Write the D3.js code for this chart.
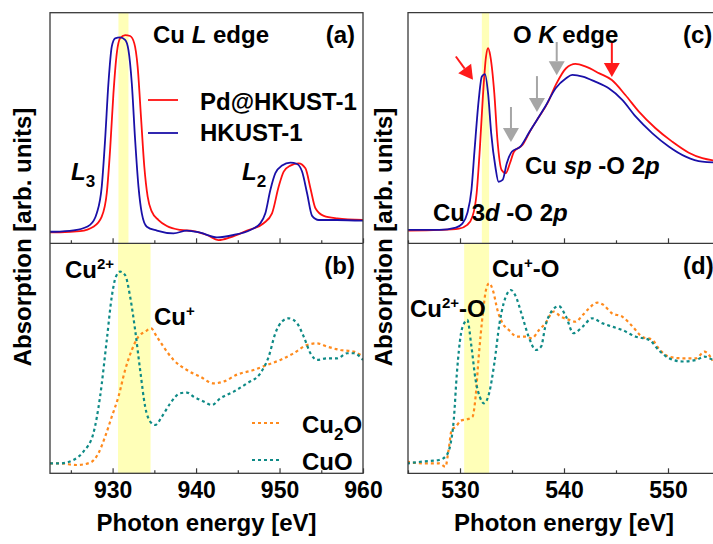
<!DOCTYPE html>
<html><head><meta charset="utf-8">
<script src="https://cdn.jsdelivr.net/npm/d3@7"></script>
<style>
html,body{margin:0;padding:0;background:#fff;}
svg{display:block;font-family:"Liberation Sans",Arial,Helvetica,sans-serif;}
</style></head>
<body>
<svg id="chart" width="713" height="544"></svg>
<script>
// ---------- DATA ----------
// Cu L edge (panel a): [photon energy eV, absorption arb. units]
const cuL_HKUST = [[922.5,5.0],[923.7,5.1],[925.7,5.8],[927.3,8.0],[928.1,13.0],[928.7,24.6],[929.1,44.8],[929.5,69.4],[929.9,85.3],[930.3,88.9],[930.9,89.3],[931.5,88.2],[931.9,83.8],[932.3,69.4],[932.7,44.8],[933.1,24.6],[933.5,13.0],[934.1,7.2],[935.3,5.5],[937.3,4.3],[938.9,5.5],[940.5,4.6],[942.5,2.6],[944.5,3.6],[946.5,5.8],[947.7,8.7],[948.3,13.0],[948.9,23.1],[949.5,30.4],[950.3,33.7],[951.3,35.0],[952.1,34.4],[952.7,31.1],[953.3,21.7],[953.9,11.9],[954.7,10.1],[956.9,10.1],[960,9.8]];
const cuL_PdHKUST = [[922.5,4.8],[923.7,4.8],[926.1,5.3],[927.7,7.2],[928.7,11.6],[929.3,21.7],[929.7,40.5],[930.1,65.0],[930.5,82.4],[930.9,88.9],[931.5,90.3],[932.1,89.9],[932.6,86.7],[933.0,76.6],[933.4,54.9],[933.8,33.2],[934.2,20.2],[934.7,13.7],[935.5,10.1],[936.5,7.5],[938.1,5.8],[939.7,5.3],[941.3,3.6],[942.7,1.4],[944.1,2.6],[946.1,5.5],[948.1,8.7],[949.1,13.0],[949.9,24.6],[950.5,31.1],[951.3,33.7],[952.3,34.7],[953.1,32.5],[953.7,23.9],[954.3,15.2],[955.3,11.9],[956.9,10.8],[960,10.1]];
// Cu L edge references (panel b)
const cuL_Cu2O = [[922.5,4.3],[923.7,4.3],[925.7,3.6],[927.3,4.6],[928.3,8.7],[929.1,15.9],[929.9,24.6],[930.7,33.3],[931.5,44.9],[932.3,53.6],[933.1,59.4],[933.9,61.6],[934.6,63.0],[935.3,59.4],[936.1,55.0],[937.3,49.3],[938.9,44.9],[940.5,42.0],[942.1,39.1],[943.3,39.9],[944.9,42.9],[946.9,44.9],[948.5,47.1],[950.1,49.3],[951.7,52.2],[953.3,55.8],[954.5,56.5],[955.7,55.1],[957.3,53.6],[958.9,52.9],[960,50.7]];
const cuL_CuO = [[922.5,4.3],[923.7,4.3],[925.3,5.8],[926.5,9.4],[927.7,17.4],[928.5,33.3],[929.3,57.9],[929.9,76.8],[930.4,85.5],[930.9,87.7],[931.5,86.2],[932.1,76.8],[932.7,62.3],[933.3,44.9],[933.9,29.0],[934.5,22.5],[935.1,21.0],[935.9,24.6],[936.9,30.4],[938.1,34.8],[938.9,35.1],[939.7,33.3],[940.9,31.2],[941.9,29.7],[942.9,32.6],[944.5,35.5],[946.1,39.1],[947.7,43.5],[948.7,50.7],[949.5,60.9],[950.3,66.0],[951.1,67.4],[952.1,65.2],[952.9,59.4],[953.7,52.2],[954.5,49.3],[955.7,50.0],[956.9,50.0],[958.1,52.2],[958.9,52.2],[960,49.3]];
// O K edge (panel c)
const oK_HKUST = [[524.9,5.8],[528.0,5.8],[529.6,6.8],[530.2,8.4],[530.7,13.0],[531.1,23.1],[531.4,40.5],[531.8,62.2],[532.1,72.3],[532.4,73.4],[532.7,65.0],[533.0,47.7],[533.4,33.2],[533.7,26.7],[534.1,27.5],[534.5,34.7],[535.0,39.8],[535.8,41.9],[536.6,47.7],[537.4,53.5],[538.2,59.3],[539.2,67.2],[540.2,71.6],[540.8,73.0],[541.8,72.3],[543.0,70.1],[544.3,67.2],[545.6,62.2],[546.9,54.9],[548.5,47.7],[550.1,41.9],[551.7,37.6],[553.3,35.4],[555,35.0]];
const oK_PdHKUST = [[524.9,5.5],[528.0,5.8],[529.9,6.4],[530.7,8.0],[531.2,11.6],[531.6,21.7],[531.9,40.5],[532.2,63.6],[532.5,80.9],[532.7,84.6],[532.9,81.6],[533.3,65.0],[533.6,44.8],[534.0,31.8],[534.4,30.4],[534.8,34.7],[535.2,39.8],[536.0,42.6],[536.8,49.1],[537.6,54.9],[538.4,60.7],[539.2,68.6],[540.2,75.9],[541.1,77.8],[542.1,76.6],[543.4,73.7],[544.6,70.8],[545.9,64.3],[547.2,57.1],[548.8,49.9],[550.4,44.1],[552.0,39.3],[553.3,36.9],[555,35.6]];
// O K edge references (panel d)
const oK_Cu2O = [[524.9,5.1],[526.4,4.3],[528.0,4.3],[528.6,2.9],[528.9,10.1],[529.2,18.8],[529.6,20.3],[530.1,22.9],[530.7,23.5],[531.2,24.6],[531.5,33.3],[531.8,50.7],[532.2,69.6],[532.5,79.7],[532.8,82.6],[533.2,79.0],[533.6,71.0],[534.1,65.2],[534.7,62.3],[535.5,59.4],[536.3,59.4],[536.9,58.7],[537.6,62.3],[538.2,65.2],[539.0,70.3],[539.7,68.1],[540.5,66.7],[541.1,65.9],[541.8,68.8],[542.4,71.7],[543.2,74.2],[543.8,73.2],[544.6,69.6],[545.6,68.1],[546.6,63.8],[547.5,59.4],[548.5,58.0],[549.1,54.3],[550.1,50.7],[551.4,50.0],[552.7,50.0],[553.5,52.9],[554.3,49.0]];
const oK_CuO = [[524.9,4.3],[526.4,5.1],[528.0,5.8],[528.6,7.2],[529.1,13.0],[529.4,23.2],[529.7,43.5],[530.1,60.9],[530.4,65.2],[530.7,66.7],[531.1,55.1],[531.5,40.6],[531.9,33.3],[532.3,30.4],[532.8,34.8],[533.3,47.8],[533.8,65.2],[534.2,73.9],[534.9,79.7],[535.3,77.5],[536.0,68.1],[536.6,59.4],[537.3,53.6],[537.8,55.1],[538.2,63.8],[538.9,71.0],[539.5,72.7],[540.2,68.1],[540.9,60.9],[541.8,63.8],[542.7,67.4],[543.7,65.2],[544.6,63.8],[545.6,62.3],[546.9,59.4],[548.2,58.0],[549.1,53.6],[550.1,50.0],[551.4,48.6],[552.7,49.3],[553.5,50.7],[554.3,49.3]];
// Highlight bands [eV start, eV end]
const bandA = [930.7, 931.9];
const bandB = [930.65, 934.55];
const bandC = [532.1, 532.8];
const bandD = [530.4, 532.8];
// Tick values
const ticksCuMajor = [930, 940, 950, 960];
const ticksCuMinor = [925, 935, 945, 955];
const ticksOMajor = [530, 540, 550];
const ticksOMinor = [525, 535, 545, 555];

// ---------- LAYOUT ----------
const svg = d3.select("#chart");
const FONT = 24;
const xL = d3.scaleLinear().domain([922.5, 960]).range([50, 363]);
const xR = d3.scaleLinear().domain([525, 555]).range([408, 720]);
const yT = d3.scaleLinear().domain([0, 100]).range([243.3, 12.7]);
const yB = d3.scaleLinear().domain([0, 100]).range([473.3, 243.3]);

const COL = {red:"#ff1010", blue:"#1a10a8", orange:"#ff8a1c", teal:"#0e8a86", band:"#ffffb8", frame:"#3a3a3a", gray:"#a6a6a6", redArrow:"#ff1a1a"};

const defs = svg.append("defs");
defs.append("clipPath").attr("id","clipL").append("rect").attr("x",50).attr("y",12.7).attr("width",313).attr("height",460.6);
defs.append("clipPath").attr("id","clipR").append("rect").attr("x",408).attr("y",12.7).attr("width",312).attr("height",460.6);

// bands
function band(g, x, y, b){
  g.append("rect").attr("x", x(b[0])).attr("width", x(b[1]) - x(b[0]))
   .attr("y", y.range()[1]).attr("height", y.range()[0] - y.range()[1])
   .attr("fill", COL.band);
}
const gL = svg.append("g").attr("clip-path","url(#clipL)");
const gR = svg.append("g").attr("clip-path","url(#clipR)");
band(gL, xL, yT, bandA);
band(gL, xL, yB, bandB);
band(gR, xR, yT, bandC);
band(gR, xR, yB, bandD);

// curves
function curve(g, x, y, data, color, dashed){
  const line = d3.line().x(d => x(d[0])).y(d => y(d[1])).curve(d3.curveMonotoneX);
  g.append("path").datum(data).attr("d", line).attr("fill","none")
   .attr("stroke", color).attr("stroke-width", dashed ? 2.2 : 1.8)
   .attr("stroke-dasharray", dashed ? "3,3" : null)
   .attr("stroke-linejoin","round");
}
curve(gL, xL, yT, cuL_PdHKUST, COL.red, false);
curve(gL, xL, yT, cuL_HKUST, COL.blue, false);
curve(gL, xL, yB, cuL_Cu2O, COL.orange, true);
curve(gL, xL, yB, cuL_CuO, COL.teal, true);
curve(gR, xR, yT, oK_PdHKUST, COL.red, false);
curve(gR, xR, yT, oK_HKUST, COL.blue, false);
curve(gR, xR, yB, oK_Cu2O, COL.orange, true);
curve(gR, xR, yB, oK_CuO, COL.teal, true);

// frames
const fr = svg.append("g").attr("fill","none").attr("stroke",COL.frame).attr("stroke-width",1.3);
fr.append("rect").attr("x",50).attr("y",12.7).attr("width",313).attr("height",460.6);
fr.append("line").attr("x1",50).attr("x2",363).attr("y1",243.3).attr("y2",243.3);
fr.append("path").attr("d",`M720,12.7H408V473.3H720M408,243.3H720`);

// axes (ticks inside)
function axes(x, major, minor){
  [yT, yB].forEach((y, i) => {
    const base = y.range()[0];
    const gMaj = svg.append("g").attr("transform",`translate(0,${base})`)
      .call(d3.axisBottom(x).tickValues(major).tickSize(-5).tickPadding(8)
        .tickFormat(i === 1 ? d3.format("d") : () => ""));
    const gMin = svg.append("g").attr("transform",`translate(0,${base})`)
      .call(d3.axisBottom(x).tickValues(minor).tickSize(-3).tickFormat(() => ""));
    [gMaj, gMin].forEach(g => {
      g.select(".domain").remove();
      g.selectAll(".tick line").attr("stroke",COL.frame).attr("stroke-width",1.2);
    });
    gMaj.selectAll(".tick text").attr("font-size",23).attr("font-weight","bold")
      .attr("fill","#000").attr("font-family","'Liberation Sans',Arial,sans-serif");
  });
}
axes(xL, ticksCuMajor, ticksCuMinor);
axes(xR, ticksOMajor, ticksOMinor);

// text helpers
function txt(x, y, s, opts = {}){
  const t = svg.append("text").attr("x", x).attr("y", y)
    .attr("font-size", opts.size || FONT).attr("font-weight","bold").attr("fill","#000").text(s);
  if (opts.anchor) t.attr("text-anchor", opts.anchor);
  return t;
}
txt(206.5, 531, "Photon energy [eV]", {anchor:"middle"});
txt(564, 531, "Photon energy [eV]", {anchor:"middle"});
svg.append("text").attr("transform","translate(31,237) rotate(-90)").attr("text-anchor","middle")
  .attr("font-size",FONT).attr("font-weight","bold").text("Absorption [arb. units]");
svg.append("text").attr("transform","translate(392,237) rotate(-90)").attr("text-anchor","middle")
  .attr("font-size",FONT).attr("font-weight","bold").text("Absorption [arb. units]");

// rich text helper
function rich(x, y, parts, anchor){
  const t = svg.append("text").attr("x", x).attr("y", y).attr("font-size", FONT)
    .attr("font-weight","bold").attr("fill","#000");
  if (anchor) t.attr("text-anchor", anchor);
  parts.forEach(p => {
    const s = t.append("tspan").text(p[0]);
    if (p[1] === "i") s.attr("font-style","italic");
    if (p[1] === "sup") s.attr("font-size", 15).attr("dy", -9);
    if (p[1] === "sub") s.attr("font-size", 17).attr("dy", 7);
    if (p[1] === "back") s.attr("dy", 9);
    if (p[1] === "backSub") s.attr("dy", -7);
  });
  return t;
}

// panel (a)
rich(153, 43, [["Cu "],["L","i"],[" edge"]]);
txt(355, 43, "(a)", {anchor:"end"});
rich(71, 180, [["L","i"],["3","sub"]]);
rich(242, 180, [["L","i"],["2","sub"]]);
svg.append("line").attr("x1",148).attr("x2",178).attr("y1",100).attr("y2",100).attr("stroke",COL.red).attr("stroke-width",1.8);
svg.append("line").attr("x1",148).attr("x2",178).attr("y1",133).attr("y2",133).attr("stroke",COL.blue).attr("stroke-width",1.8);
txt(200, 110, "Pd@HKUST-1");
txt(200, 141, "HKUST-1");

// panel (b)
rich(65, 278, [["Cu"],["2+","sup"]]);
rich(154, 325, [["Cu"],["+","sup"]]);
txt(355, 274, "(b)", {anchor:"end"});
svg.append("line").attr("x1",252).attr("x2",282).attr("y1",423).attr("y2",423).attr("stroke",COL.orange).attr("stroke-width",2.2).attr("stroke-dasharray","3,3");
svg.append("line").attr("x1",252).attr("x2",282).attr("y1",460).attr("y2",460).attr("stroke",COL.teal).attr("stroke-width",2.2).attr("stroke-dasharray","3,3");
rich(302, 433, [["Cu"],["2","sub"],["O","backSub"]]);
txt(302, 470, "CuO");

// panel (c)
rich(513, 43, [["O "],["K","i"],[" edge"]]);
txt(683, 43, "(c)");
rich(525, 174, [["Cu "],["sp","i"],[" -O 2"],["p","i"]]);
rich(433, 221, [["Cu 3"],["d","i"],[" -O 2"],["p","i"]]);

// arrows in (c), positioned in data coordinates
function arrow(x0, y0, x1, y1, color){
  const X0 = xR(x0), Y0 = yT(y0), X1 = xR(x1), Y1 = yT(y1);
  const ang = Math.atan2(Y1 - Y0, X1 - X0);
  const hl = 14, hw = 8;
  const bx = X1 - hl*Math.cos(ang), by = Y1 - hl*Math.sin(ang);
  svg.append("line").attr("x1",X0).attr("y1",Y0).attr("x2",bx).attr("y2",by)
    .attr("stroke",color).attr("stroke-width",2);
  const px = -Math.sin(ang)*hw, py = Math.cos(ang)*hw;
  svg.append("path").attr("d",`M${X1},${Y1}L${bx+px},${by+py}L${bx-px},${by-py}Z`).attr("fill",color);
}
arrow(529.6, 81.0, 531.25, 70.9, COL.redArrow);
arrow(534.9, 59.1, 534.9, 43.9, COL.gray);
arrow(537.4, 72.5, 537.4, 56.9, COL.gray);
arrow(539.3, 87.3, 539.3, 72.9, COL.gray);
arrow(544.6, 86.9, 544.6, 72.1, COL.redArrow);

// panel (d)
rich(492, 277, [["Cu"],["+","sup"],["-O","back"]]);
rich(410, 317, [["Cu"],["2+","sup"],["-O","back"]]);
txt(683, 274, "(d)");
</script>
</body></html>
